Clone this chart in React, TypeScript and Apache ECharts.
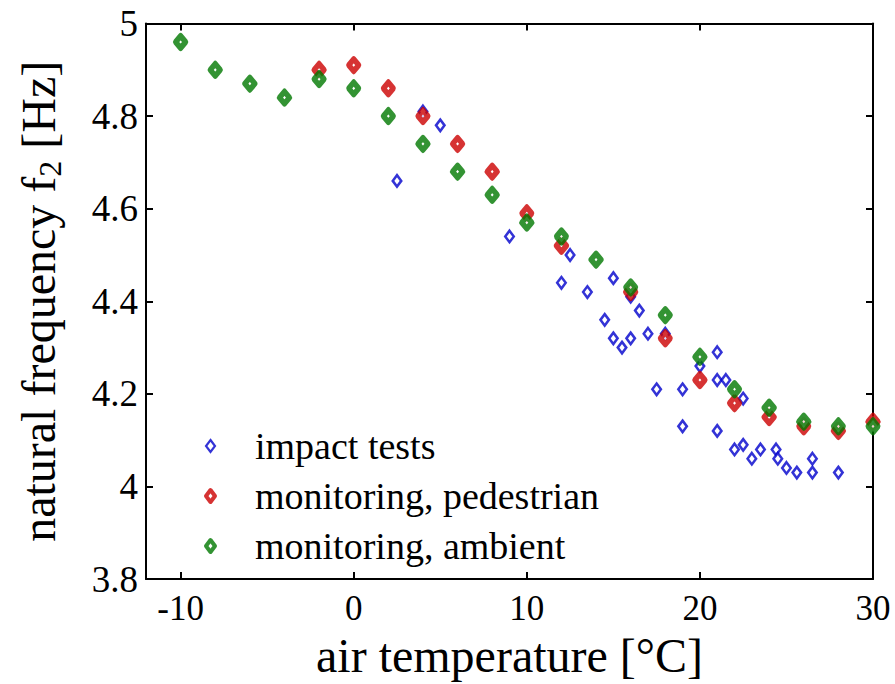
import React, { useEffect, useRef } from "react";
import * as echarts from "echarts";

// Impact tests (hollow blue diamonds)
const impactTemp = [2.5, 4, 5, 9, 12, 12.5, 13.5, 14.5, 15, 15, 15.5, 16, 16, 16.5, 17, 17.5, 18, 19, 19, 20, 21, 21, 21.5, 21, 22, 22.5, 22.5, 23, 23.5, 24.4, 24.5, 25, 25.6, 26.5, 26.5, 28];
const impactFreq = [4.66, 4.81, 4.78, 4.54, 4.44, 4.5, 4.42, 4.36, 4.45, 4.32, 4.3, 4.32, 4.41, 4.38, 4.33, 4.21, 4.33, 4.21, 4.13, 4.26, 4.29, 4.23, 4.23, 4.12, 4.08, 4.19, 4.09, 4.06, 4.08, 4.08, 4.06, 4.04, 4.03, 4.06, 4.03, 4.03];

// Monitoring under pedestrian load
const pedTemp = [-2, 0, 2, 4, 6, 8, 10, 12, 16, 18, 20, 22, 24, 26, 28, 30];
const pedFreq = [4.9, 4.91, 4.86, 4.8, 4.74, 4.68, 4.59, 4.52, 4.42, 4.32, 4.23, 4.18, 4.15, 4.13, 4.12, 4.14];

// Monitoring under ambient excitation
const ambTemp = [-10, -8, -6, -4, -2, 0, 2, 4, 6, 8, 10, 12, 14, 16, 18, 20, 22, 24, 26, 28, 30];
const ambFreq = [4.96, 4.9, 4.87, 4.84, 4.88, 4.86, 4.8, 4.74, 4.68, 4.63, 4.57, 4.54, 4.49, 4.43, 4.37, 4.28, 4.21, 4.17, 4.14, 4.13, 4.13];

const seriesNames = ["impact tests", "monitoring, pedestrian", "monitoring, ambient"];
const xTicks = [-10, 0, 10, 20, 30];

const BLUE = "#0000cc";
const RED = "#cc0000";
const GREEN = "#007800";
const FONT = "'Liberation Serif', 'Times New Roman', serif";

const zip = (xs: number[], ys: number[]) => xs.map((x, i) => [x, ys[i]]);

export default function App() {
  const ref = useRef<HTMLDivElement>(null);

  useEffect(() => {
    document.body.style.margin = "0";
    const chart = echarts.init(ref.current!, null, { renderer: "svg" });

    const axisLine = { show: true, onZero: false, lineStyle: { color: "#000", width: 2 } };
    const tick = { show: true, inside: true, length: 7, lineStyle: { color: "#000", width: 2 } };

    chart.setOption({
      animation: false,
      backgroundColor: "#fff",
      grid: { left: 146, right: 22, top: 23.5, bottom: 101.5 },
      legend: {
        orient: "vertical",
        left: 199,
        top: 421,
        itemWidth: 9,
        itemHeight: 12,
        itemGap: 10,
        textStyle: {
          fontFamily: FONT,
          fontSize: 38,
          lineHeight: 40,
          color: "#000",
          padding: [0, 0, 0, 35],
        },
        data: [
          { name: seriesNames[0], icon: "diamond", itemStyle: { color: "#fff", borderColor: BLUE, borderWidth: 2.2 } },
          { name: seriesNames[1], icon: "diamond", itemStyle: { color: "#fff", borderColor: RED, borderWidth: 4 } },
          { name: seriesNames[2], icon: "diamond", itemStyle: { color: "#fff", borderColor: GREEN, borderWidth: 4 } },
        ],
      },
      xAxis: [
        {
          type: "value",
          min: -12,
          max: 30,
          position: "bottom",
          name: "air temperature [°C]",
          nameLocation: "middle",
          nameGap: 43,
          nameTextStyle: { fontFamily: FONT, fontSize: 48, color: "#000" },
          axisLine,
          axisTick: { ...tick, customValues: xTicks },
          axisLabel: { customValues: xTicks, fontFamily: FONT, fontSize: 35, color: "#000", margin: 12 },
          splitLine: { show: false },
        },
        {
          type: "value",
          min: -12,
          max: 30,
          position: "top",
          axisLine,
          axisTick: { ...tick, customValues: xTicks },
          axisLabel: { show: false },
          splitLine: { show: false },
        },
      ],
      yAxis: [
        {
          type: "value",
          min: 3.8,
          max: 5,
          interval: 0.2,
          position: "left",
          name: "natural frequency f{sub|2} [Hz]",
          nameLocation: "middle",
          nameGap: 84,
          nameTextStyle: {
            fontFamily: FONT,
            fontSize: 48,
            lineHeight: 48,
            color: "#000",
            rich: {
              sub: { fontFamily: FONT, fontSize: 32, lineHeight: 32, verticalAlign: "top", padding: [20, 0, 0, 0], color: "#000" },
            },
          },
          axisLine,
          axisTick: tick,
          axisLabel: { fontFamily: FONT, fontSize: 37, color: "#000", margin: 8 },
          splitLine: { show: false },
        },
        {
          type: "value",
          min: 3.8,
          max: 5,
          interval: 0.2,
          position: "right",
          axisLine,
          axisTick: tick,
          axisLabel: { show: false },
          splitLine: { show: false },
        },
      ],
      series: [
        {
          name: seriesNames[0],
          type: "scatter",
          xAxisIndex: 0,
          yAxisIndex: 0,
          clip: false,
          symbol: "diamond",
          symbolSize: [8.5, 11.5],
          itemStyle: { color: "#fff", borderColor: BLUE, borderWidth: 2.6 },
          data: zip(impactTemp, impactFreq),
        },
        {
          name: seriesNames[1],
          type: "scatter",
          xAxisIndex: 0,
          yAxisIndex: 0,
          clip: false,
          symbol: "diamond",
          symbolSize: [10, 12],
          itemStyle: { color: "#fff", borderColor: RED, borderWidth: 5.6, borderJoin: "round" },
          data: zip(pedTemp, pedFreq),
        },
        {
          name: seriesNames[2],
          type: "scatter",
          xAxisIndex: 0,
          yAxisIndex: 0,
          clip: false,
          symbol: "diamond",
          symbolSize: [10, 12],
          itemStyle: { color: "#fff", borderColor: GREEN, borderWidth: 5.6, borderJoin: "round" },
          data: zip(ambTemp, ambFreq),
        },
      ],
    });

    return () => chart.dispose();
  }, []);

  return <div ref={ref} style={{ width: 895, height: 684 }} />;
}
